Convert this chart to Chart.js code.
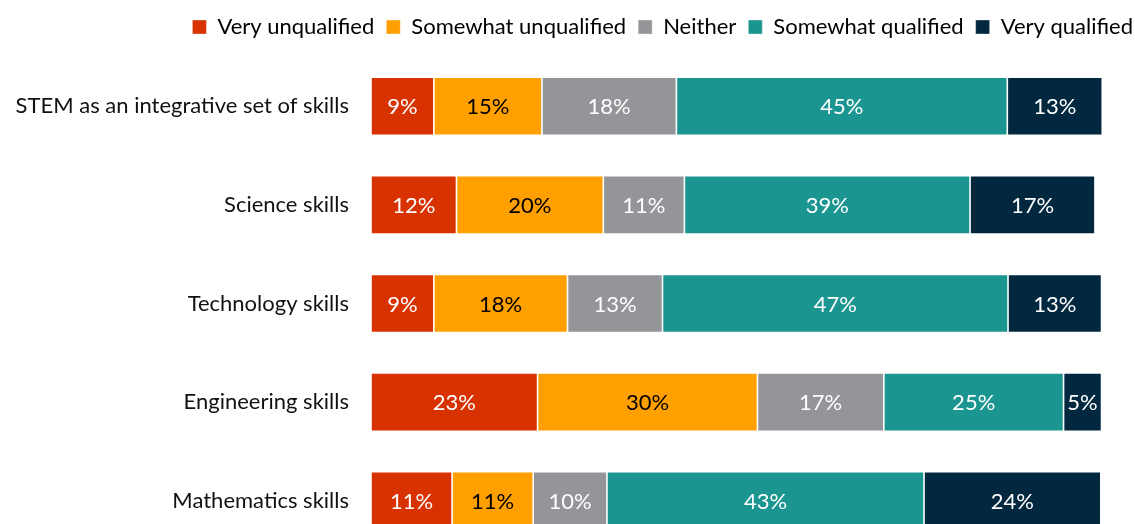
<!DOCTYPE html>
<html><head><meta charset="utf-8">
<script src="https://cdn.jsdelivr.net/npm/chart.js@4.4.0/dist/chart.umd.min.js"></script>
<style>
html,body{margin:0;padding:0;background:#fff;overflow:hidden;width:1135px;height:524px;}
#wrap{position:relative;width:1135px;height:524px;overflow:hidden;}
#c{display:block;}
</style></head><body>
<div id="wrap"><canvas id="c" width="1135" height="524"></canvas></div>
<script>
const categories = ["STEM as an integrative set of skills", "Science skills", "Technology skills", "Engineering skills", "Mathematics skills"];
const seriesNames = ["Very unqualified", "Somewhat unqualified", "Neither", "Somewhat qualified", "Very qualified"];
const veryUnqualified     = [8.6, 11.7, 8.6, 22.8, 11.1];
const somewhatUnqualified = [14.8, 20.1, 18.3, 30.1, 11.1];
const neither             = [18.4, 11.1, 13.0, 17.3, 10.1];
const somewhatQualified   = [45.3, 39.1, 47.3, 24.6, 43.4];
const veryQualified       = [13.0, 17.1, 12.8, 5.2, 24.2];

const colors = ["#D73200", "#FF9F00", "#939598", "#1B958F", "#022840"];
const labelColors = ["#FFFFFF", "#000000", "#FFFFFF", "#FFFFFF", "#FFFFFF"];
const seriesData = [veryUnqualified, somewhatUnqualified, neither, somewhatQualified, veryQualified];
const FONT = "Lato";
// layout: the plot continues past the bottom edge of the picture (last row is cut off)
const PLOT_TOP_GAP = 9;
const PLOT_BOTTOM_OVERFLOW = 26;

const extendPlot = {
  id: "extendPlot",
  afterLayout(chart) {
    const ca = chart.chartArea;
    const y = chart.scales.y;
    const top = ca.top + PLOT_TOP_GAP;
    const bottom = chart.height + PLOT_BOTTOM_OVERFLOW;
    ca.top = top; ca.bottom = bottom; ca.height = bottom - top;
    y.top = top; y.bottom = bottom; y.height = bottom - top;
    y.configure();
  }
};

const valueLabels = {
  id: "valueLabels",
  afterDatasetsDraw(chart) {
    const ctx = chart.ctx;
    ctx.save();
    ctx.font = "22px " + FONT;
    ctx.textAlign = "center";
    ctx.textBaseline = "middle";
    chart.data.datasets.forEach((ds, di) => {
      const meta = chart.getDatasetMeta(di);
      meta.data.forEach((el, i) => {
        ctx.fillStyle = labelColors[di];
        ctx.fillText(Math.round(ds.data[i]) + "%", (el.x + el.base) / 2, el.y + 1);
      });
    });
    ctx.restore();
  }
};

new Chart(document.getElementById("c"), {
  type: "bar",
  data: {
    labels: categories,
    datasets: seriesNames.map((n, i) => ({
      label: n,
      data: seriesData[i],
      backgroundColor: colors[i],
      borderColor: "rgba(255,255,255,0.45)",
      borderWidth: 0.8,
      borderSkipped: false,
      barPercentage: 0.59,
      categoryPercentage: 1
    }))
  },
  options: {
    indexAxis: "y",
    responsive: false,
    maintainAspectRatio: false,
    animation: false,
    devicePixelRatio: 1,
    layout: { padding: { top: 4, right: -10, left: 0, bottom: 0 } },
    plugins: {
      tooltip: { enabled: false },
      legend: {
        position: "top",
        align: "end",
        labels: {
          boxWidth: 14, boxHeight: 14, padding: 12,
          color: "#000", font: { family: FONT, size: 22 }
        }
      }
    },
    scales: {
      x: { stacked: true, display: false, min: 0, max: 104.58 },
      y: {
        stacked: true,
        grid: { display: false, drawTicks: false },
        border: { display: false },
        ticks: { color: "#111", padding: 22, font: { family: FONT, size: 22 } },
        afterFit(scale) { scale.width = 371; }
      }
    }
  },
  plugins: [extendPlot, valueLabels]
});
</script>
</body></html>
